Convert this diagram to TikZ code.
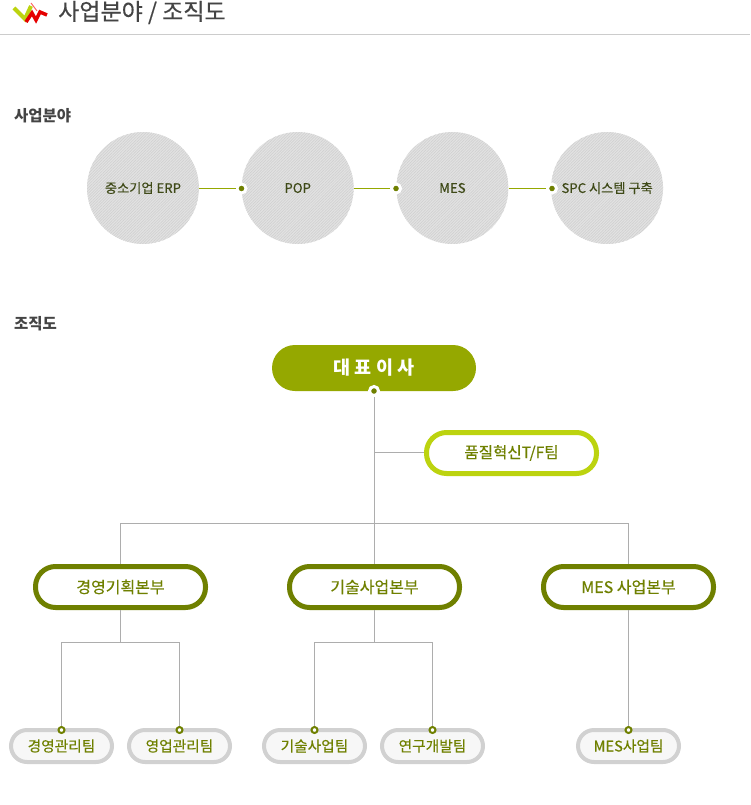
\documentclass[tikz,border=0pt]{standalone}
\usepackage{fontspec}
\setmainfont{Noto Sans CJK KR}
\newfontfamily\medfont[FakeBold=0.4]{Noto Sans CJK KR}
\usetikzlibrary{positioning,patterns.meta}
\definecolor{olive1}{HTML}{6F8000}
\definecolor{olive2}{HTML}{95A800}
\definecolor{lime1}{HTML}{BCD30F}
\definecolor{ink}{HTML}{3F4A18}
\definecolor{head}{HTML}{444444}
\tikzstyle{area} = [circle, preaction={fill=black!11}, pattern={Lines[angle=45,distance=2pt,line width=.7pt]},
    pattern color=black!18, text=ink, minimum size=112pt, inner sep=0pt,
    font=\medfont\fontsize{13.2}{15}\selectfont]
\tikzstyle{dot} = [circle, draw=white, line width=3pt, fill=olive1, minimum size=9pt, inner sep=0pt]
\tikzstyle{ring} = [circle, draw=olive1, line width=2pt, fill=white, minimum size=6pt, inner sep=0pt]
\tikzstyle{boss} = [rectangle, rounded corners=23pt, fill=olive2, text=white, minimum width=204pt,
    minimum height=46pt, font=\fontsize{18.5}{20}\selectfont\bfseries]
\tikzstyle{unit} = [rectangle, rounded corners=20pt, draw=olive1, line width=5pt, fill=white, text=olive1,
    minimum width=170pt, minimum height=41pt, inner sep=0pt, font=\medfont\fontsize{16}{18}\selectfont]
\tikzstyle{team} = [rectangle, rounded corners=16pt, draw=black!18, line width=4pt, fill=black!3, text=olive1,
    minimum width=101pt, minimum height=32pt, inner sep=0pt, font=\medfont\fontsize{14.7}{16}\selectfont]
\tikzstyle{link} = [draw=olive2, line width=1.2pt]
\tikzstyle{tree} = [draw=black!32, line width=1pt]
\tikzstyle{title} = [anchor=base west, inner sep=0pt, text=head]

\begin{document}
\begin{tikzpicture}[x=1pt, y=-1pt, node distance=154.7pt]
  \useasboundingbox (0,0) rectangle (750,805);
  % Header
  \node [title, font=\medfont\fontsize{23}{26}\selectfont] (heading) at (58,20) {사업분야 / 조직도};
  \coordinate (ruleL) at (0,34.5);
  \coordinate (ruleR) at (750,34.5);
  \path [draw=black!20, line width=1pt] (ruleL) -- (ruleR);
  \path [draw=lime1, line width=4pt] (14,8) -- (25,19) -- (31,6);
  \path [draw=red!60, line width=1pt] (31,3) -- (37,11);
  \path [draw=red!90!black, line width=3.5pt] (26,22) -- (32,13) -- (36,20) -- (40,12) -- (47,15);

  \node [title, font=\fontsize{15.5}{18}\selectfont\bfseries] (fieldhead) at (14,121.5) {사업분야};
  \node [title, font=\fontsize{15.5}{18}\selectfont\bfseries] (orghead) at (14,329) {조직도};

  % Business areas
  \node [area] (erp) at (143,188) {중소기업 ERP};
  \node [area, right of=erp] (pop) {POP};
  \node [area, right of=pop] (mes) {MES};
  \node [area, right of=mes] (spc) {SPC 시스템 구축};

  \node [dot] (d1) at (241.5,188.5) {};
  \node [dot] (d2) at (396,188.5) {};
  \node [dot] (d3) at (552,188.5) {};
  \path [link] (erp.east |- d1) -- (d1);
  \path [link] (pop.east |- d2) -- (d2);
  \path [link] (mes.east |- d3) -- (d3);

  % Organisation
  \node [boss] (ceo) at (374,368) {대 표 이 사};
  \node [dot] (ceodot) at (374,391) {};
  \node [unit, draw=lime1, font=\medfont\fontsize{15.6}{18}\selectfont] (qa) at (511.5,453) {품질혁신T/F팀};

  \node [unit] (u1) at (120.5,587) {경영기획본부};
  \node [unit] (u2) at (374.5,587) {기술사업본부};
  \node [unit] (u3) at (628.5,587) {MES 사업본부};

  \node [team] (t1) at (61.5,746) {경영관리팀};
  \node [team] (t2) at (179.5,746) {영업관리팀};
  \node [team] (t3) at (314.5,746) {기술사업팀};
  \node [team] (t4) at (432.5,746) {연구개발팀};
  \node [team] (t5) at (628.5,746) {MES사업팀};

  \node [ring] (r1) at (61.5,730) {};
  \node [ring] (r2) at (179.5,730) {};
  \node [ring] (r3) at (314.5,730) {};
  \node [ring] (r4) at (432.5,730) {};
  \node [ring] (r5) at (628.5,730) {};

  \coordinate (bus) at (374.5,523.5);
  \coordinate (side) at (374.5,452.5);
  \coordinate (b1) at (120.5,642.5);
  \coordinate (b2) at (374.5,642.5);

  \path [tree] (ceodot.south -| bus) -- (u2.north);
  \path [tree] (side) -- (qa.west |- side);
  \path [tree] (bus) -| (u1.north);
  \path [tree] (bus) -| (u3.north);
  \path [tree] (u1.south) -- (b1);
  \path [tree] (u2.south) -- (b2);
  \path [tree] (b1) -| (r1.north);
  \path [tree] (b1) -| (r2.north);
  \path [tree] (b2) -| (r3.north);
  \path [tree] (b2) -| (r4.north);
  \path [tree] (u3.south) -- (r5.north);
\end{tikzpicture}
\end{document}
